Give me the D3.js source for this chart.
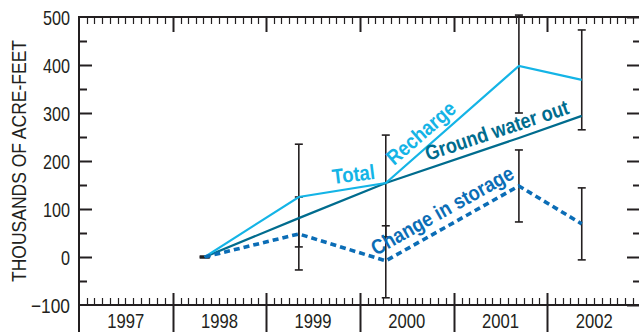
<!DOCTYPE html>
<html>
<head>
<meta charset="utf-8">
<script src="https://cdn.jsdelivr.net/npm/d3@7"></script>
<style>
	body { margin: 0; background: #fff; }
	svg { display: block; }
	text { font-family: 'Liberation Sans Narrow', 'Liberation Sans', sans-serif; }
</style>
</head>
<body>
<svg id="chart"></svg>
<script>

var w = 639;
var h = 332;

// sample dates (fraction of the year)
var dates = ['1998-05-06', '1999-05-08', '2000-04-11', '2001-09-12', '2002-05-15'];
var recharge = [0, 125, 154, 398, 369];
var gw_out = [0, 81, 154, 248, 294];
var storage = [0, 48, -8, 148, 69];

// error bars, [low, high]
var recharge_err = [[0, 0], [21, 235], [42, 254], [300, 504], [265, 473]];
var storage_err = [[0, 0], [-27, 125], [-85, 65], [73, 223], [-6, 144]];

var years = [1997, 1998, 1999, 2000, 2001, 2002];
var y_ticks = [-100, 0, 100, 200, 300, 400, 500];

var parse = d3.timeParse('%Y-%m-%d');
var pts = dates.map(function(d, i) {
	return { date: parse(d), recharge: recharge[i], gw: gw_out[i], storage: storage[i],
		rerr: recharge_err[i], serr: storage_err[i] };
});

var m_left = 79, m_right = 641, m_top = 17, m_bottom = 305;

var x = d3.scaleTime()
	.domain([new Date(1997, 0, 1), new Date(2003, 0, 1)])
	.range([m_left, m_right]);

var y = d3.scaleLinear()
	.domain([-100, 500])
	.range([m_bottom, m_top]);

var svg = d3.select('#chart')
	.attr('width', w)
	.attr('height', h);

var ink = '#231f20';

// frame
svg.append('line').attr('x1', m_left).attr('x2', m_right).attr('y1', m_top).attr('y2', m_top)
	.attr('stroke', ink).attr('stroke-width', 2);
svg.append('line').attr('x1', m_left).attr('x2', m_right).attr('y1', m_bottom).attr('y2', m_bottom)
	.attr('stroke', ink).attr('stroke-width', 2);
svg.append('line').attr('x1', m_left).attr('x2', m_left).attr('y1', m_top - 1).attr('y2', h)
	.attr('stroke', ink).attr('stroke-width', 2);

// month ticks top and bottom
var months = d3.timeMonth.range(new Date(1997, 0, 1), new Date(2003, 1, 1));
months.forEach(function(m) {
	var isYear = m.getMonth() == 0;
	if (isYear && m.getFullYear() == 1997) return;
	var xx = Math.round(x(m)) + 0.5;
	svg.append('line')
		.attr('x1', xx).attr('x2', xx)
		.attr('y1', m_top).attr('y2', m_top + (isYear ? 15 : 7))
		.attr('stroke', ink).attr('stroke-width', isYear ? 2 : 1.2);
	svg.append('line')
		.attr('x1', xx).attr('x2', xx)
		.attr('y1', isYear ? h : m_bottom).attr('y2', m_bottom - (isYear ? 12 : 7))
		.attr('stroke', ink).attr('stroke-width', isYear ? 2 : 1.2);
});

// y ticks left and right, every 50
d3.range(-100, 501, 50).forEach(function(v) {
	var major = v % 100 == 0;
	var yy = Math.round(y(v)) + 0.5;
	if (v > -100 && v < 500) {
		svg.append('line').attr('x1', m_left).attr('x2', m_left + (major ? 13 : 8))
			.attr('y1', yy).attr('y2', yy).attr('stroke', ink).attr('stroke-width', 2);
	}
	svg.append('line').attr('x1', m_right).attr('x2', m_right - (major ? 14 : 8))
		.attr('y1', yy).attr('y2', yy).attr('stroke', ink).attr('stroke-width', 2);
});

// y tick labels (condensed via textLength)
svg.selectAll('.ylab')
	.data(y_ticks)
	.enter()
	.append('text')
	.attr('class', 'ylab')
	.attr('x', 70)
	.attr('y', function(d) { return y(d) + 7.5; })
	.attr('text-anchor', 'end')
	.attr('font-size', 21)
	.attr('textLength', function(d) { return d < 0 ? 39 : String(d).length * 9; })
	.attr('lengthAdjust', 'spacingAndGlyphs')
	.attr('fill', ink)
	.text(function(d) { return d < 0 ? '\u2212' + Math.abs(d) : d; });

// year labels
svg.selectAll('.xlab')
	.data(years)
	.enter()
	.append('text')
	.attr('class', 'xlab')
	.attr('x', function(d) { return (x(new Date(d, 0, 1)) + x(new Date(d + 1, 0, 1))) / 2; })
	.attr('y', 328)
	.attr('text-anchor', 'middle')
	.attr('font-size', 21)
	.attr('textLength', 37)
	.attr('lengthAdjust', 'spacingAndGlyphs')
	.attr('fill', ink)
	.text(function(d) { return d; });

// axis title
svg.append('text')
	.attr('transform', 'translate(26,161) rotate(-90)')
	.attr('text-anchor', 'middle')
	.attr('font-size', 21)
	.attr('textLength', 242)
	.attr('lengthAdjust', 'spacingAndGlyphs')
	.attr('fill', ink)
	.text('THOUSANDS OF ACRE-FEET');

// error bars
function errbar(d, key) {
	var xx = x(d.date);
	var lo = d[key][0], hi = d[key][1];
	var g = svg.append('g').attr('stroke', ink);
	if (lo == hi) {
		g.append('line').attr('x1', xx - 5).attr('x2', xx + 5)
			.attr('y1', y(lo)).attr('y2', y(lo)).attr('stroke-width', 3);
		return;
	}
	g.append('line').attr('x1', xx).attr('x2', xx).attr('y1', y(lo)).attr('y2', y(hi))
		.attr('stroke-width', 1.6);
	[lo, hi].forEach(function(v) {
		g.append('line').attr('x1', xx - 4).attr('x2', xx + 4)
			.attr('y1', y(v)).attr('y2', y(v)).attr('stroke-width', 1.6);
	});
}
pts.forEach(function(d) { errbar(d, 'rerr'); errbar(d, 'serr'); });

var c_recharge = '#14b4e6';
var c_gw = '#006c8e';
var c_storage = '#0b6db6';

function line(key) {
	return d3.line()
		.x(function(d) { return x(d.date); })
		.y(function(d) { return y(d[key]); })(pts);
}

svg.append('path').attr('d', line('gw')).attr('fill', 'none')
	.attr('stroke', c_gw).attr('stroke-width', 2.2);
svg.append('path').attr('d', line('recharge')).attr('fill', 'none')
	.attr('stroke', c_recharge).attr('stroke-width', 2.2);
svg.append('path').attr('d', line('storage')).attr('fill', 'none')
	.attr('stroke', c_storage).attr('stroke-width', 3.6)
	.attr('stroke-dasharray', '6,4');

// line labels
function label(txt, x0, y0, ang, len, col) {
	svg.append('text')
		.attr('transform', 'translate(' + x0 + ',' + y0 + ') rotate(' + ang + ')')
		.attr('font-size', 21)
		.attr('font-weight', 'bold')
		.attr('textLength', len)
		.attr('lengthAdjust', 'spacingAndGlyphs')
		.attr('fill', col)
		.text(txt);
}

label('Total', 333, 184, -7, 43, c_recharge);
label('Recharge', 394, 166, -41, 84, c_recharge);
label('Ground water out', 428, 161, -18.5, 150, c_gw);
label('Change in storage', 376, 256, -29.3, 160, c_storage);

</script>
</body>
</html>
